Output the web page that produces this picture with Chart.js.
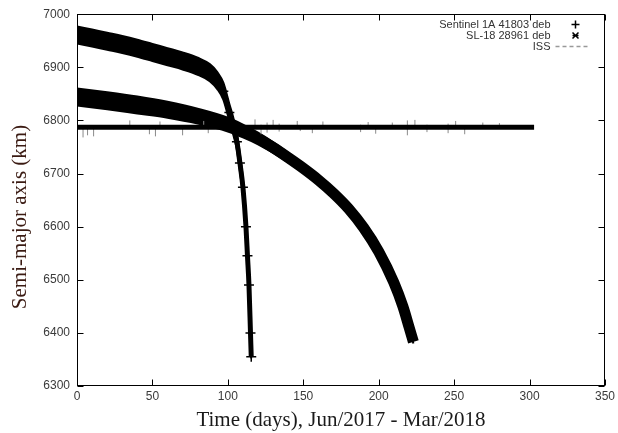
<!DOCTYPE html>
<html>
<head>
<meta charset="utf-8">
<title>Semi-major axis decay</title>
<script src="https://cdn.jsdelivr.net/npm/chart.js@4.4.0/dist/chart.umd.min.js"></script>
<style>
  html, body { margin: 0; padding: 0; background: #fff; }
  #wrap { width: 618px; height: 433px; }
</style>
</head>
<body>
<div id="wrap"><canvas id="decayChart" width="618" height="433"></canvas></div>
<script>
// legend names, top to bottom
const seriesNames = ["Sentinel 1A 41803 deb", "SL-18 28961 deb", "ISS"];
const yTitle = "Semi-major axis (km)";

// Sentinel 1A debris: days, band centre / top / bottom (km)
const sentinelDays = [0, 10, 20, 30, 40, 50, 60, 70, 80, 88, 93, 97, 101, 104, 106, 108, 110, 112, 113, 114, 115, 115.5];
const sentinelMid  = [6961, 6955, 6949, 6943, 6936, 6928, 6920, 6912, 6902, 6890, 6875, 6855, 6815, 6785, 6760, 6720, 6674, 6600, 6545, 6490, 6400, 6355];
const sentinelHigh = [6977, 6971, 6965, 6959, 6952, 6944, 6936, 6928, 6918, 6906, 6891, 6871, 6831, 6801, 6776, 6736, 6690, 6616, 6561, 6506, 6416, 6365];
const sentinelLow  = [6945, 6939, 6933, 6927, 6920, 6912, 6904, 6896, 6886, 6874, 6859, 6839, 6799, 6769, 6744, 6704, 6658, 6584, 6529, 6474, 6384, 6352];

// SL-18 debris
const sl18Days = [0, 20, 40, 60, 80, 100, 110, 120, 130, 140, 150, 160, 170, 180, 190, 200, 210, 216, 220, 223];
const sl18Mid  = [6844, 6837, 6829, 6820, 6808, 6792, 6780, 6766, 6749, 6730, 6710, 6688, 6663, 6634, 6598, 6553, 6495, 6450, 6412, 6383];
const sl18High = [6860, 6853, 6845, 6835, 6822, 6805, 6792, 6777, 6759, 6739, 6718, 6695, 6669, 6639, 6602, 6556, 6497, 6452, 6414, 6386];
const sl18Low  = [6828, 6821, 6813, 6805, 6794, 6779, 6768, 6755, 6739, 6721, 6702, 6681, 6657, 6629, 6594, 6550, 6493, 6448, 6410, 6380];

// ISS mean altitude and short excursions
const issDays = [0, 303];
const issMean = [6787, 6787];
const issSpikeDays = [4, 7, 11, 35, 48, 52, 55, 70, 84, 87, 118, 122, 126, 130, 134, 146, 148, 156, 163, 188, 193, 198, 209, 219, 224, 232, 246, 251, 257, 269, 280];
const issSpikeLow  = [6768, 6772, 6770, 6787, 6774, 6770, 6787, 6772, 6787, 6776, 6787, 6774, 6777, 6787, 6779, 6787, 6780, 6776, 6787, 6778, 6787, 6775, 6787, 6772, 6787, 6778, 6776, 6787, 6774, 6787, 6787];
const issSpikeHigh = [6787, 6787, 6787, 6800, 6787, 6787, 6798, 6787, 6799, 6787, 6802, 6792, 6796, 6801, 6794, 6799, 6787, 6787, 6798, 6792, 6797, 6790, 6796, 6800, 6801, 6792, 6794, 6799, 6787, 6796, 6795];

const pts = (xs, ys) => xs.map((x, i) => ({ x: x, y: ys[i] }));

// vertical strokes separated by gaps
const spikePts = [];
issSpikeDays.forEach((d, i) => {
  spikePts.push({ x: d, y: issSpikeLow[i] }, { x: d, y: issSpikeHigh[i] }, { x: d, y: null });
});

const tickFont = { family: "'Liberation Sans', Arial, sans-serif", size: 12 };
const titleFont = { family: "'Liberation Serif', 'Times New Roman', serif", size: 21 };

// gnuplot-like frame with inward ticks, y title and legend in the top right corner
const framePlugin = {
  id: "frame",
  afterDraw(chart) {
    const ctx = chart.ctx;
    const a = chart.chartArea;
    const l = Math.round(a.left) + 0.5, r = Math.round(a.right) - 0.5;
    const t = Math.round(a.top) + 0.5, b = Math.round(a.bottom) - 0.5;
    ctx.save();
    ctx.strokeStyle = "#000";
    ctx.lineWidth = 1;
    ctx.strokeRect(l, t, r - l, b - t);

    ctx.beginPath();
    chart.scales.x.ticks.forEach((tk) => {
      const px = Math.round(chart.scales.x.getPixelForValue(tk.value)) + 0.5;
      ctx.moveTo(px, b); ctx.lineTo(px, b - 6);
      ctx.moveTo(px, t); ctx.lineTo(px, t + 6);
    });
    chart.scales.y.ticks.forEach((tk) => {
      const py = Math.round(chart.scales.y.getPixelForValue(tk.value)) + 0.5;
      ctx.moveTo(l, py); ctx.lineTo(l + 6, py);
      ctx.moveTo(r, py); ctx.lineTo(r - 6, py);
    });
    ctx.stroke();

    // y axis title, sits a little below the plot centre
    ctx.save();
    ctx.translate(20, 217);
    ctx.rotate(-Math.PI / 2);
    ctx.font = "21px 'Liberation Serif', 'Times New Roman', serif";
    ctx.fillStyle = "#3a1a12";
    ctx.textAlign = "center";
    ctx.textBaseline = "middle";
    ctx.fillText(yTitle, 0, 0);
    ctx.restore();

    // legend
    ctx.font = "11px 'Liberation Sans', Arial, sans-serif";
    ctx.fillStyle = "#333";
    ctx.textAlign = "right";
    ctx.textBaseline = "middle";
    const textRight = r - 54;
    const symX = r - 29;
    seriesNames.forEach((name, i) => {
      const y = t + 10 + i * 11;
      ctx.fillText(name, textRight, y);
      ctx.strokeStyle = "#000";
      ctx.lineWidth = 1.5;
      ctx.beginPath();
      if (i === 0) {
        ctx.moveTo(symX - 4, y); ctx.lineTo(symX + 4, y);
        ctx.moveTo(symX, y - 4); ctx.lineTo(symX, y + 4);
      } else if (i === 1) {
        ctx.moveTo(symX - 3, y - 3); ctx.lineTo(symX + 3, y + 3);
        ctx.moveTo(symX - 3, y + 3); ctx.lineTo(symX + 3, y - 3);
        ctx.moveTo(symX - 3, y); ctx.lineTo(symX + 3, y);
      } else {
        ctx.strokeStyle = "#999";
        ctx.setLineDash([4, 3]);
        ctx.moveTo(symX - 20, y); ctx.lineTo(symX + 15, y);
      }
      ctx.stroke();
      ctx.setLineDash([]);
    });
    ctx.restore();
  }
};

const bandEdge = (data) => ({
  data: data,
  borderColor: "#000",
  backgroundColor: "#000",
  borderWidth: 2,
  pointRadius: 0,
  cubicInterpolationMode: "monotone"
});

new Chart(document.getElementById("decayChart"), {
  type: "line",
  data: {
    datasets: [
      {
        label: seriesNames[2],
        data: pts(issDays, issMean),
        borderColor: "#000",
        borderWidth: 5,
        pointRadius: 0
      },
      {
        label: "ISS spikes",
        data: spikePts,
        borderColor: "#8a8a8a",
        borderWidth: 1,
        pointRadius: 0,
        spanGaps: false
      },
      Object.assign(bandEdge(pts(sentinelDays, sentinelHigh)), { fill: false }),
      Object.assign(bandEdge(pts(sentinelDays, sentinelLow)), { fill: "-1" }),
      {
        label: seriesNames[0],
        data: pts(sentinelDays, sentinelMid),
        borderColor: "#000",
        borderWidth: 5,
        pointStyle: "cross",
        pointRadius: 5,
        pointBorderWidth: 1.5,
        cubicInterpolationMode: "monotone"
      },
      Object.assign(bandEdge(pts(sl18Days, sl18High)), { fill: false }),
      Object.assign(bandEdge(pts(sl18Days, sl18Low)), { fill: "-1" }),
      {
        label: seriesNames[1],
        data: pts(sl18Days, sl18Mid),
        borderColor: "#000",
        borderWidth: 11,
        pointStyle: "crossRot",
        pointRadius: 0,
        cubicInterpolationMode: "monotone"
      }
    ]
  },
  options: {
    responsive: false,
    devicePixelRatio: 1,
    animation: false,
    layout: { padding: { top: 13, right: 12, left: 0, bottom: 0 } },
    plugins: {
      legend: { display: false },
      tooltip: { enabled: false }
    },
    scales: {
      x: {
        type: "linear",
        min: 0,
        max: 350,
        grid: { display: false, drawTicks: false },
        border: { display: false },
        ticks: { stepSize: 50, font: tickFont, color: "#3a3a3a", padding: 3, maxRotation: 0 },
        title: {
          display: true,
          text: "Time (days), Jun/2017 - Mar/2018",
          font: titleFont,
          color: "#1a1a1a",
          padding: { top: 0, bottom: 0 }
        },
        afterFit: (s) => { s.height = 47; }
      },
      y: {
        min: 6300,
        max: 7000,
        grid: { display: false, drawTicks: false },
        border: { display: false },
        ticks: {
          stepSize: 100,
          font: tickFont,
          color: "#3a3a3a",
          padding: 7,
          callback: (v) => String(v)
        },
        title: { display: false },
        afterFit: (s) => { s.width = 77; }
      }
    }
  },
  plugins: [framePlugin]
});
</script>
</body>
</html>
